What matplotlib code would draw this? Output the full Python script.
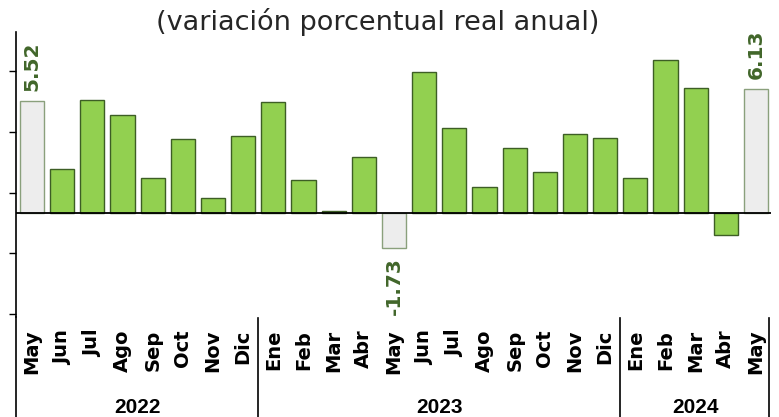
import numpy as np
import matplotlib
matplotlib.use('Agg')
import matplotlib.pyplot as plt

########## DATA
months = ['May', 'Jun', 'Jul', 'Ago', 'Sep', 'Oct', 'Nov', 'Dic',
          'Ene', 'Feb', 'Mar', 'Abr', 'May', 'Jun', 'Jul', 'Ago', 'Sep', 'Oct', 'Nov', 'Dic',
          'Ene', 'Feb', 'Mar', 'Abr', 'May']
values = [5.52, 2.15, 5.57, 4.86, 1.71, 3.68, 0.76, 3.78,
          5.49, 1.65, 0.08, 2.77, -1.73, 6.97, 4.20, 1.29, 3.23, 2.04, 3.89, 3.69,
          1.74, 7.56, 6.19, -1.09, 6.13]
years = ['2022', '2023', '2024']
months_per_year = [8, 12, 5]
labelled = [0, 12, 24]  # bars shown in grey with their value written
title = '(variación porcentual real anual)'

########## STYLE
green = '#92D050'
green_edge = '#3d5e25'
grey = '#EDEDED'
grey_edge = '#8aa07c'
label_color = '#41662a'

plt.rcParams['font.family'] = 'DejaVu Sans'

fig = plt.figure(figsize=(7.79, 4.17), dpi=100)
ax = fig.add_axes([0.0205, 0.2398, 0.969, 0.6835])

x = np.arange(len(values))
colors = [grey if i in labelled else green for i in x]
edges = [grey_edge if i in labelled else green_edge for i in x]
ax.bar(x, values, width=0.8, color=colors, edgecolor=edges, linewidth=1.0, zorder=2)
ax.axhline(0, color='black', linewidth=1.3, zorder=3)

for i in labelled:
    v = values[i]
    if v >= 0:
        ax.annotate(f'{v:.2f}', (i, v), xytext=(0, 7.5), textcoords='offset points',
                    rotation=90, ha='center', va='bottom', fontsize=14.5,
                    fontweight='bold', color=label_color)
    else:
        ax.annotate(f'{v:.2f}', (i, v), xytext=(0, -6.5), textcoords='offset points',
                    rotation=90, ha='center', va='top', fontsize=14.5,
                    fontweight='bold', color=label_color)

ax.set_xlim(-0.53, 24.49)
ax.set_ylim(-5.15, 8.95)
ax.set_yticks([-5, -2, 1, 4, 7])
ax.set_yticklabels([])
ax.tick_params(axis='y', direction='out', length=5, width=1, color='black')
ax.set_xticks([])
for side in ['top', 'right', 'bottom']:
    ax.spines[side].set_visible(False)
ax.spines['left'].set_linewidth(1.2)

# category axis: months, then years with separators
trans = ax.get_xaxis_transform()
for i, m in enumerate(months):
    ax.text(i, -0.045, m, transform=trans, rotation=90, ha='center', va='top',
            fontsize=14, fontweight='bold', color='black')

start = 0
bounds = [ax.get_xlim()[0]]
for y, n in zip(years, months_per_year):
    ax.text(start + (n - 1) / 2, -0.316, y, transform=trans, ha='center', va='center',
            fontsize=15, fontweight='bold', family='Liberation Sans')
    start += n
    bounds.append(start - 0.5)
bounds[-1] = ax.get_xlim()[1] - 0.05
for k, b in enumerate(bounds):
    top = 0 if k == 0 else -0.005
    ax.plot([b, b], [top, -0.37], transform=trans, color='black', linewidth=1.2, clip_on=False)

fig.text(0.485, 0.947, title, ha='center', va='center', fontsize=19.5, color='#262626')

fig.savefig('out.png', dpi=100)
